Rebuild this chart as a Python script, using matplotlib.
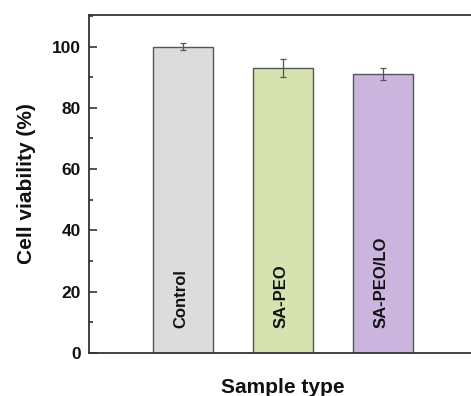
import matplotlib
matplotlib.use("Agg")
import matplotlib.pyplot as plt
from matplotlib.ticker import MultipleLocator

categories = ["Control", "SA-PEO", "SA-PEO/LO"]
values = [100, 93, 91]
errors = [1, 3, 2]
colors = ["#dcdcdc", "#d7e2b1", "#cbb4de"]

plt.rcParams['font.family'] = ['Liberation Sans', 'DejaVu Sans']
plt.rcParams['font.weight'] = 'bold'

fig = plt.figure(figsize=(4.71, 3.96), dpi=100)
ax = fig.add_axes([89/471, 43/396, 388/471, 338/396])

x = [1, 2, 3]
ax.bar(x, values, width=0.6, color=colors, edgecolor="#555555", linewidth=1.0, zorder=2)
ax.errorbar(x, values, yerr=errors, fmt='none', ecolor="#555555", elinewidth=0.9,
            capsize=2.3, capthick=0.9, zorder=3)

for xi, name in zip(x, categories):
    ax.text(xi - 0.02, 8, name, rotation=90, ha='center', va='bottom',
            fontsize=12, fontweight='bold', color='#111111', zorder=4)

ax.set_xlim(0.06, 3.94)
ax.set_ylim(0, 110.3)
ax.set_xticks([])
ax.yaxis.set_major_locator(MultipleLocator(20))
ax.yaxis.set_minor_locator(MultipleLocator(10))
ax.set_yticks([0, 20, 40, 60, 80, 100])
ax.tick_params(axis='y', which='major', direction='in', length=6, width=1.2,
               labelsize=12.5, pad=6, colors='#333333', labelcolor='#111111')
ax.tick_params(axis='y', which='minor', direction='in', length=3, width=1.2, colors='#333333')
for lab in ax.get_yticklabels():
    lab.set_fontweight('bold')
for s in ax.spines.values():
    s.set_linewidth(1.3)
    s.set_color('#333333')

ax.set_ylabel("Cell viability (%)", fontsize=15, fontweight='bold', labelpad=11, color='#111111')
ax.set_xlabel("Sample type", fontsize=15, fontweight='bold', labelpad=18, color='#111111')

fig.savefig("out.png", dpi=100)
